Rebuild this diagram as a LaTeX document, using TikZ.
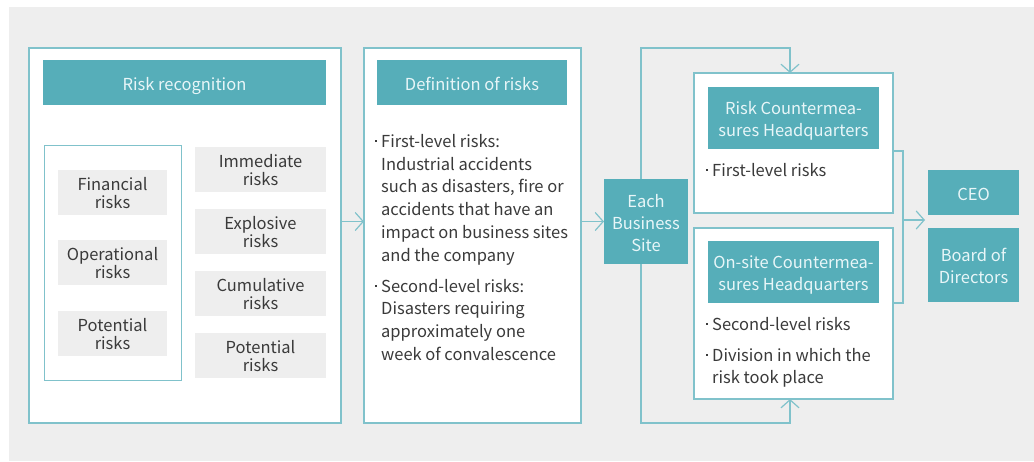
\documentclass[tikz,border=0pt]{standalone}
\usepackage{fontspec}
\setmainfont{Noto Sans CJK SC}
\usepackage{tikz}
\usetikzlibrary{arrows.meta,positioning,calc}
\definecolor{tealhead}{RGB}{86,174,185}
\definecolor{tealline}{RGB}{128,194,203}
\definecolor{bggray}{RGB}{238,238,238}
\definecolor{inkgray}{RGB}{58,58,58}
\definecolor{headtext}{RGB}{232,246,248}
\newcommand{\dotitem}{\makebox[6pt][l]{\raisebox{5.6pt}{\rule{1.6pt}{1.6pt}}}}
\newcommand{\hangpad}{\hspace*{6pt}}
\begin{document}
\begin{tikzpicture}[x=1pt,y=-1pt,
  panel/.style={draw=tealline,line width=1.2pt,fill=white,anchor=north west,inner sep=0pt,outer sep=0pt},
  header/.style={fill=tealhead,text=headtext,anchor=north west,inner sep=0pt,outer sep=0pt,align=center,text height=16pt,text depth=1pt,font=\fontsize{16.5}{22}\selectfont},
  lines2/.style={text height=37pt},
  lines3/.style={text height=61pt},
  chip/.style={fill=bggray,text=inkgray,anchor=north west,inner sep=0pt,outer sep=0pt,align=center,text height=33pt,text depth=1pt,font=\fontsize{16.5}{18}\selectfont},
  notes/.style={text=inkgray,anchor=north west,inner sep=0pt,align=left,font=\fontsize{16.5}{22.8}\selectfont},
  link/.style={draw=tealline,line width=1.2pt},
  arr/.style={link,-{Straight Barb[length=8pt,width=18pt]}}]
\useasboundingbox (0,0) rectangle (1034,461);
\fill[bggray] (9,7) rectangle (1034,461);
% risk recognition
\node[panel,minimum width=312pt,minimum height=375pt] (rec) at (29,48) {};
\node[header,minimum width=283pt,minimum height=45pt] (rech) at (43,60) {Risk recognition};
\node[panel,line width=1pt,minimum width=137pt,minimum height=235pt] (grp) at (44,145) {};
\node[chip,minimum width=109pt,minimum height=45pt] (fin) at (58,170) {Financial\\risks};
\node[chip,minimum width=109pt,minimum height=45pt] (ope) at (58,240) {Operational\\risks};
\node[chip,minimum width=109pt,minimum height=45pt] (pot) at (58,311) {Potential\\risks};
\node[chip,minimum width=131pt,minimum height=45pt] (imm) at (195,147) {Immediate\\risks};
\node[chip,minimum width=131pt,minimum height=45pt] (exp) at (195,209) {Explosive\\risks};
\node[chip,minimum width=131pt,minimum height=45pt] (cum) at (195,271) {Cumulative\\risks};
\node[chip,minimum width=131pt,minimum height=45pt] (potb) at (195,333) {Potential\\risks};
% definition of risks
\node[panel,minimum width=217pt,minimum height=375pt] (defn) at (364,48) {};
\node[header,minimum width=190pt,minimum height=45pt] (defh) at (377,60) {Definition of risks};
\node[notes] (defl) at (375,134) {\dotitem First-level risks:\\\hangpad Industrial accidents\\\hangpad such as disasters, fire or\\\hangpad accidents that have an\\\hangpad impact on business sites\\\hangpad and the company\\[8pt]\dotitem Second-level risks:\\\hangpad Disasters requiring\\\hangpad approximately one\\\hangpad week of convalescence};
% sites and headquarters
\node[header,lines3,minimum width=84pt,minimum height=85pt] (ebs) at (604,179) {Each\\Business\\Site};
\node[panel,minimum width=199pt,minimum height=140pt] (rch) at (694,73) {};
\node[header,lines2,minimum width=171pt,minimum height=62pt] (rchh) at (708,87) {Risk Countermea-\\sures Headquarters};
\node[notes] (rchl) at (706,163) {\dotitem First-level risks};
\node[panel,minimum width=199pt,minimum height=171pt] (och) at (694,228) {};
\node[header,lines2,minimum width=171pt,minimum height=62pt] (ochh) at (708,241) {On-site Countermea-\\sures Headquarters};
\node[notes] (ochl) at (706,317) {\dotitem Second-level risks\\[8pt]\dotitem Division in which the\\\hangpad risk took place};
\node[header,minimum width=91pt,minimum height=45pt] (ceo) at (928,170) {CEO};
\node[header,lines2,minimum width=91pt,minimum height=74pt] (bod) at (928,228) {Board of\\Directors};
% connectors
\foreach \x/\y in {rec/defn,defn/ebs} \draw[arr] (\x.east |- ebs.west)--(\y.west |- ebs.west);
\draw[arr] ([xshift=-5pt]ebs.north) -- ([xshift=-5pt]ebs.north |- rec.north) -| ([xshift=-3.5pt]rch.north);
\draw[arr] ([xshift=-5pt]ebs.south) -- ([xshift=-5pt]ebs.south |- rec.south) -| ([xshift=-3.5pt]och.south);
\coordinate (jt) at (903,151);
\coordinate (jb) at (903,303);
\coordinate (jm) at (903,220);
\coordinate (tip) at (925,220);
\draw[link] (rch.east |- jt) -- (jt) -- (jb) -- (och.east |- jb);
\draw[arr] (jm) -- (tip);
\end{tikzpicture}
\end{document}
